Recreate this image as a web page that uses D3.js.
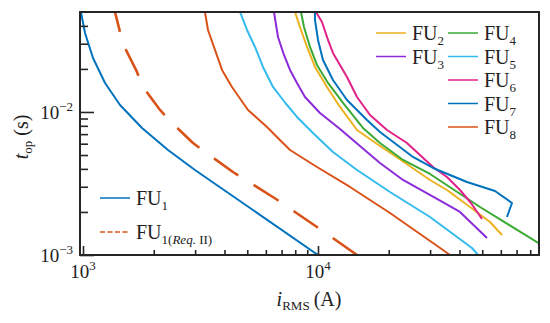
<!DOCTYPE html>
<html><head><meta charset="utf-8">
<script src="https://cdn.jsdelivr.net/npm/d3@7"></script>
<style>
body{margin:0;background:#fff}
svg{display:block}
text{font-family:"Liberation Serif","Times New Roman",serif;fill:#222}
</style>
</head><body><svg id="c" width="550" height="323"></svg>
<script>
// ---------- data ----------
const xDomain = [971, 87200];        // i_RMS (A)
const yDomain = [0.001, 0.05];       // t_op (s)
const xMajorTicks = [1e3, 1e4];
const xMinorTicks = [2e3,3e3,4e3,5e3,6e3,7e3,8e3,9e3,2e4,3e4,4e4,5e4,6e4,7e4,8e4];
const yMajorTicks = [1e-3, 1e-2];
const yMinorTicks = [2e-3,3e-3,4e-3,5e-3,6e-3,7e-3,8e-3,9e-3,2e-2,3e-2,4e-2];
const xTickExp = ["3", "4"];
const yTickExp = ["\u22123", "\u22122"];

const fu1I = [980,1020,1103,1241,1437,1783,2300,2996,10000];
const fu1T = [0.05,0.03567,0.02385,0.01595,0.01119,0.00773,0.00542,0.00393,0.001];
const fu1ReqI = [1368,1437,1509,1697,1800,2127,2391,2938,3403,4347,6627,9901,14660];
const fu1ReqT = [0.05,0.03625,0.02803,0.01905,0.01496,0.01033,0.00838,0.00607,0.00508,0.003805,0.002464,0.00157,0.001];
const fu2I = [7980,8382,8979,9710,10922,12408,14660,18360,21900,29970,35390,44350,53940,60670];
const fu2T = [0.05,0.0393,0.02848,0.02064,0.01496,0.01084,0.00748,0.00578,0.004768,0.003345,0.002848,0.002166,0.0017,0.00138];
const fu3I = [6498,6758,7165,7603,8140,8804,10198,12408,16160,18360,23000,32100,40210,52380];
const fu3T = [0.05,0.03345,0.02503,0.01967,0.01595,0.01273,0.00984,0.0076,0.00525,0.0044,0.003345,0.002464,0.0019985,0.001315];
const fu4I = [8467,8718,9247,9901,11030,12777,15540,18360,23000,29970,48920,88050];
const fu4T = [0.05,0.0393,0.02848,0.02132,0.01595,0.01156,0.00773,0.00607,0.004617,0.003685,0.002166,0.001194];
const fu5I = [4658,4988,5395,5834,6435,7250,8140,9521,11580,14660,20250,29970,45210,47970];
const fu5T = [0.05,0.03744,0.02848,0.02064,0.01496,0.0116,0.00923,0.00713,0.00525,0.00393,0.002758,0.001844,0.001119,0.001];
const fu6I = [9806,10400,11030,11580,13286,14660,16650,19660,23910,30860,35390,40210,44770,49880];
const fu6T = [0.05,0.04259,0.03188,0.02585,0.01757,0.01273,0.00953,0.00748,0.00607,0.004125,0.003511,0.002848,0.00231,0.001785];
const fu7I = [9710,9710,10000,10502,11580,13286,16160,18360,25370,30860,43050,56650,66910,63720];
const fu7T = [0.05,0.04399,0.03188,0.0231,0.01674,0.01213,0.00879,0.007246,0.004845,0.004059,0.003239,0.002803,0.00231,0.001844];
const fu8I = [3304,3403,3645,3904,4305,5036,6067,6800,7603,9901,13686,20250,34030,36450];
const fu8T = [0.05,0.03744,0.02714,0.01967,0.01496,0.01033,0.00785,0.0065,0.00542,0.004125,0.00299,0.001966,0.001084,0.001];

const series = [
  {sub:"1", i:fu1I, t:fu1T, color:"#0072BD", dash:null},
  {sub:"1", req:true, i:fu1ReqI, t:fu1ReqT, color:"#D95319", dash:true},
  {sub:"2", i:fu2I, t:fu2T, color:"#EDB120"},
  {sub:"3", i:fu3I, t:fu3T, color:"#8C2BD9"},
  {sub:"4", i:fu4I, t:fu4T, color:"#3BAA34"},
  {sub:"5", i:fu5I, t:fu5T, color:"#33BBEE"},
  {sub:"6", i:fu6I, t:fu6T, color:"#E0218A"},
  {sub:"7", i:fu7I, t:fu7T, color:"#0072BD"},
  {sub:"8", i:fu8I, t:fu8T, color:"#D95319"}
];

// ---------- layout ----------
const L=80, R=539, T=12, B=255;
const svg = d3.select("#c");
const x = d3.scaleLog().domain(xDomain).range([L,R]);
const y = d3.scaleLog().domain(yDomain).range([B,T]);
const axisColor = "#262626";

svg.append("defs").append("clipPath").attr("id","clip")
  .append("rect").attr("x",L).attr("y",T).attr("width",R-L).attr("height",B-T);

const line = d3.line().x(d=>x(d[0])).y(d=>y(d[1]));
const plot = svg.append("g").attr("clip-path","url(#clip)");
series.forEach(s=>{
  const pts = s.i.map((v,k)=>[v,s.t[k]]);
  const p = plot.append("path").attr("d",line(pts)).attr("fill","none")
    .attr("stroke",s.color).attr("stroke-width",s.dash?2.6:2)
    .attr("stroke-linejoin","round");
  if(s.dash){
    // dashes arranged so that the first dash ends ~20px below the top and the last ends at the axis
    const len = p.node().getTotalLength();
    const first = 20.5, k = 7;
    const P = (len-first)/k, D = P*0.62;
    p.attr("stroke-dasharray",`${D},${P-D}`).attr("stroke-dashoffset",D-first);
  }
});

// axes ticks (inward)
function styleAxis(g){ g.select(".domain").remove(); g.selectAll("line").attr("stroke",axisColor).attr("stroke-width",1.6); }
svg.append("g").attr("transform",`translate(0,${B})`)
  .call(d3.axisBottom(x).tickValues(xMajorTicks).tickSize(-9).tickFormat("")).call(styleAxis);
svg.append("g").attr("transform",`translate(0,${B})`)
  .call(d3.axisBottom(x).tickValues(xMinorTicks).tickSize(-5).tickFormat("")).call(styleAxis);
svg.append("g").attr("transform",`translate(${L},0)`)
  .call(d3.axisLeft(y).tickValues(yMajorTicks).tickSize(-14).tickFormat("")).call(styleAxis);
svg.append("g").attr("transform",`translate(${L},0)`)
  .call(d3.axisLeft(y).tickValues(yMinorTicks).tickSize(-8).tickFormat("")).call(styleAxis);

// frame
svg.append("rect").attr("x",L).attr("y",T).attr("width",R-L).attr("height",B-T)
  .attr("fill","none").attr("stroke",axisColor).attr("stroke-width",2);

// tick labels
xMajorTicks.forEach((v,k)=>{
  const t = svg.append("text").attr("x",x(v)).attr("y",278).attr("text-anchor","middle").attr("font-size",19);
  t.append("tspan").text("10");
  t.append("tspan").attr("dy",-8).attr("font-size",13).text(xTickExp[k]);
});
yMajorTicks.forEach((v,k)=>{
  const t = svg.append("text").attr("x",73).attr("y",y(v)+7).attr("text-anchor","end").attr("font-size",19);
  t.append("tspan").text("10");
  t.append("tspan").attr("dy",-8).attr("font-size",13).text(yTickExp[k]);
});

// axis labels
const xl = svg.append("text").attr("x",309).attr("y",306).attr("text-anchor","middle").attr("font-size",20);
xl.append("tspan").attr("font-style","italic").text("i");
xl.append("tspan").attr("dy",4).attr("font-size",13).text("RMS");
xl.append("tspan").attr("dy",-4).text("\u2009(A)");
const yl = svg.append("text").attr("transform","translate(28,137) rotate(-90)").attr("text-anchor","middle").attr("font-size",20);
yl.append("tspan").attr("font-style","italic").text("t");
yl.append("tspan").attr("dy",4).attr("font-size",13).text("op");
yl.append("tspan").attr("dy",-4).text(" (s)");

// legends
function legendItem(s, lx, ly){
  svg.append("line").attr("x1",lx).attr("x2",lx+30).attr("y1",ly).attr("y2",ly)
    .attr("stroke",s.color).attr("stroke-width",1.5).attr("stroke-dasharray",s.dash?"5,2.5":null);
  const t = svg.append("text").attr("x",lx+36).attr("y",ly+7).attr("font-size",20);
  t.append("tspan").text("FU");
  const sub = t.append("tspan").attr("dy",5).attr("font-size",13);
  if(s.req){
    sub.append("tspan").text("1(");
    sub.append("tspan").attr("font-style","italic").text("Req.");
    sub.append("tspan").text(" II)");
  } else sub.text(s.sub);
}
legendItem(series[0],100,198);
legendItem(series[1],100,232);
const rowY = [33,56.5,80,103.5,127];
legendItem(series[2],376,rowY[0]);
legendItem(series[3],376,rowY[1]);
[4,5,6,7,8].forEach((k,j)=>legendItem(series[k],448,rowY[j]));
</script></body></html>
